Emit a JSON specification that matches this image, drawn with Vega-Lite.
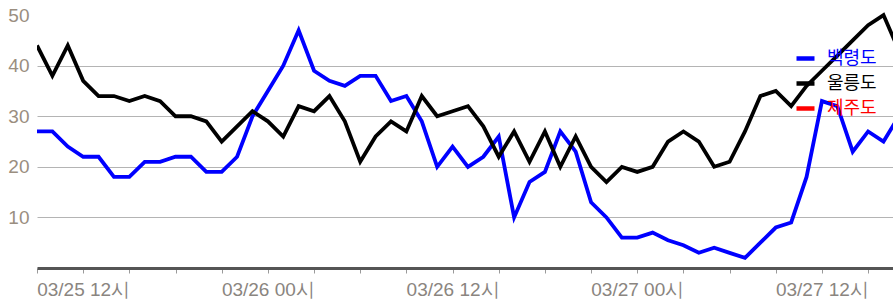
{
  "$schema": "https://vega.github.io/schema/vega-lite/v6.json",
  "width": 856,
  "height": 263,
  "autosize": {"type": "none"},
  "padding": {"left": 37, "top": 5, "right": 0, "bottom": 38},
  "background": "white",
  "config": {"view": {"stroke": null}},
  "data": {"values": [
    {"t": "2024-03-25T09:00Z", "s": "백령도", "v": 27},
    {"t": "2024-03-25T10:00Z", "s": "백령도", "v": 27},
    {"t": "2024-03-25T11:00Z", "s": "백령도", "v": 24},
    {"t": "2024-03-25T12:00Z", "s": "백령도", "v": 22},
    {"t": "2024-03-25T13:00Z", "s": "백령도", "v": 22},
    {"t": "2024-03-25T14:00Z", "s": "백령도", "v": 18},
    {"t": "2024-03-25T15:00Z", "s": "백령도", "v": 18},
    {"t": "2024-03-25T16:00Z", "s": "백령도", "v": 21},
    {"t": "2024-03-25T17:00Z", "s": "백령도", "v": 21},
    {"t": "2024-03-25T18:00Z", "s": "백령도", "v": 22},
    {"t": "2024-03-25T19:00Z", "s": "백령도", "v": 22},
    {"t": "2024-03-25T20:00Z", "s": "백령도", "v": 19},
    {"t": "2024-03-25T21:00Z", "s": "백령도", "v": 19},
    {"t": "2024-03-25T22:00Z", "s": "백령도", "v": 22},
    {"t": "2024-03-25T23:00Z", "s": "백령도", "v": 30},
    {"t": "2024-03-26T00:00Z", "s": "백령도", "v": 35},
    {"t": "2024-03-26T01:00Z", "s": "백령도", "v": 40},
    {"t": "2024-03-26T02:00Z", "s": "백령도", "v": 47},
    {"t": "2024-03-26T03:00Z", "s": "백령도", "v": 39},
    {"t": "2024-03-26T04:00Z", "s": "백령도", "v": 37},
    {"t": "2024-03-26T05:00Z", "s": "백령도", "v": 36},
    {"t": "2024-03-26T06:00Z", "s": "백령도", "v": 38},
    {"t": "2024-03-26T07:00Z", "s": "백령도", "v": 38},
    {"t": "2024-03-26T08:00Z", "s": "백령도", "v": 33},
    {"t": "2024-03-26T09:00Z", "s": "백령도", "v": 34},
    {"t": "2024-03-26T10:00Z", "s": "백령도", "v": 29},
    {"t": "2024-03-26T11:00Z", "s": "백령도", "v": 20},
    {"t": "2024-03-26T12:00Z", "s": "백령도", "v": 24},
    {"t": "2024-03-26T13:00Z", "s": "백령도", "v": 20},
    {"t": "2024-03-26T14:00Z", "s": "백령도", "v": 22},
    {"t": "2024-03-26T15:00Z", "s": "백령도", "v": 26},
    {"t": "2024-03-26T16:00Z", "s": "백령도", "v": 10},
    {"t": "2024-03-26T17:00Z", "s": "백령도", "v": 17},
    {"t": "2024-03-26T18:00Z", "s": "백령도", "v": 19},
    {"t": "2024-03-26T19:00Z", "s": "백령도", "v": 27},
    {"t": "2024-03-26T20:00Z", "s": "백령도", "v": 23},
    {"t": "2024-03-26T21:00Z", "s": "백령도", "v": 13},
    {"t": "2024-03-26T22:00Z", "s": "백령도", "v": 10},
    {"t": "2024-03-26T23:00Z", "s": "백령도", "v": 6},
    {"t": "2024-03-27T00:00Z", "s": "백령도", "v": 6},
    {"t": "2024-03-27T01:00Z", "s": "백령도", "v": 7},
    {"t": "2024-03-27T02:00Z", "s": "백령도", "v": 5.5},
    {"t": "2024-03-27T03:00Z", "s": "백령도", "v": 4.5},
    {"t": "2024-03-27T04:00Z", "s": "백령도", "v": 3},
    {"t": "2024-03-27T05:00Z", "s": "백령도", "v": 4},
    {"t": "2024-03-27T06:00Z", "s": "백령도", "v": 3},
    {"t": "2024-03-27T07:00Z", "s": "백령도", "v": 2},
    {"t": "2024-03-27T08:00Z", "s": "백령도", "v": 5},
    {"t": "2024-03-27T09:00Z", "s": "백령도", "v": 8},
    {"t": "2024-03-27T10:00Z", "s": "백령도", "v": 9},
    {"t": "2024-03-27T11:00Z", "s": "백령도", "v": 18},
    {"t": "2024-03-27T12:00Z", "s": "백령도", "v": 33},
    {"t": "2024-03-27T13:00Z", "s": "백령도", "v": 32},
    {"t": "2024-03-27T14:00Z", "s": "백령도", "v": 23},
    {"t": "2024-03-27T15:00Z", "s": "백령도", "v": 27},
    {"t": "2024-03-27T16:00Z", "s": "백령도", "v": 25},
    {"t": "2024-03-27T17:00Z", "s": "백령도", "v": 30},
    {"t": "2024-03-25T09:00Z", "s": "울릉도", "v": 44},
    {"t": "2024-03-25T10:00Z", "s": "울릉도", "v": 38},
    {"t": "2024-03-25T11:00Z", "s": "울릉도", "v": 44},
    {"t": "2024-03-25T12:00Z", "s": "울릉도", "v": 37},
    {"t": "2024-03-25T13:00Z", "s": "울릉도", "v": 34},
    {"t": "2024-03-25T14:00Z", "s": "울릉도", "v": 34},
    {"t": "2024-03-25T15:00Z", "s": "울릉도", "v": 33},
    {"t": "2024-03-25T16:00Z", "s": "울릉도", "v": 34},
    {"t": "2024-03-25T17:00Z", "s": "울릉도", "v": 33},
    {"t": "2024-03-25T18:00Z", "s": "울릉도", "v": 30},
    {"t": "2024-03-25T19:00Z", "s": "울릉도", "v": 30},
    {"t": "2024-03-25T20:00Z", "s": "울릉도", "v": 29},
    {"t": "2024-03-25T21:00Z", "s": "울릉도", "v": 25},
    {"t": "2024-03-25T22:00Z", "s": "울릉도", "v": 28},
    {"t": "2024-03-25T23:00Z", "s": "울릉도", "v": 31},
    {"t": "2024-03-26T00:00Z", "s": "울릉도", "v": 29},
    {"t": "2024-03-26T01:00Z", "s": "울릉도", "v": 26},
    {"t": "2024-03-26T02:00Z", "s": "울릉도", "v": 32},
    {"t": "2024-03-26T03:00Z", "s": "울릉도", "v": 31},
    {"t": "2024-03-26T04:00Z", "s": "울릉도", "v": 34},
    {"t": "2024-03-26T05:00Z", "s": "울릉도", "v": 29},
    {"t": "2024-03-26T06:00Z", "s": "울릉도", "v": 21},
    {"t": "2024-03-26T07:00Z", "s": "울릉도", "v": 26},
    {"t": "2024-03-26T08:00Z", "s": "울릉도", "v": 29},
    {"t": "2024-03-26T09:00Z", "s": "울릉도", "v": 27},
    {"t": "2024-03-26T10:00Z", "s": "울릉도", "v": 34},
    {"t": "2024-03-26T11:00Z", "s": "울릉도", "v": 30},
    {"t": "2024-03-26T12:00Z", "s": "울릉도", "v": 31},
    {"t": "2024-03-26T13:00Z", "s": "울릉도", "v": 32},
    {"t": "2024-03-26T14:00Z", "s": "울릉도", "v": 28},
    {"t": "2024-03-26T15:00Z", "s": "울릉도", "v": 22},
    {"t": "2024-03-26T16:00Z", "s": "울릉도", "v": 27},
    {"t": "2024-03-26T17:00Z", "s": "울릉도", "v": 21},
    {"t": "2024-03-26T18:00Z", "s": "울릉도", "v": 27},
    {"t": "2024-03-26T19:00Z", "s": "울릉도", "v": 20},
    {"t": "2024-03-26T20:00Z", "s": "울릉도", "v": 26},
    {"t": "2024-03-26T21:00Z", "s": "울릉도", "v": 20},
    {"t": "2024-03-26T22:00Z", "s": "울릉도", "v": 17},
    {"t": "2024-03-26T23:00Z", "s": "울릉도", "v": 20},
    {"t": "2024-03-27T00:00Z", "s": "울릉도", "v": 19},
    {"t": "2024-03-27T01:00Z", "s": "울릉도", "v": 20},
    {"t": "2024-03-27T02:00Z", "s": "울릉도", "v": 25},
    {"t": "2024-03-27T03:00Z", "s": "울릉도", "v": 27},
    {"t": "2024-03-27T04:00Z", "s": "울릉도", "v": 25},
    {"t": "2024-03-27T05:00Z", "s": "울릉도", "v": 20},
    {"t": "2024-03-27T06:00Z", "s": "울릉도", "v": 21},
    {"t": "2024-03-27T07:00Z", "s": "울릉도", "v": 27},
    {"t": "2024-03-27T08:00Z", "s": "울릉도", "v": 34},
    {"t": "2024-03-27T09:00Z", "s": "울릉도", "v": 35},
    {"t": "2024-03-27T10:00Z", "s": "울릉도", "v": 32},
    {"t": "2024-03-27T11:00Z", "s": "울릉도", "v": 36},
    {"t": "2024-03-27T12:00Z", "s": "울릉도", "v": 39},
    {"t": "2024-03-27T13:00Z", "s": "울릉도", "v": 42},
    {"t": "2024-03-27T14:00Z", "s": "울릉도", "v": 45},
    {"t": "2024-03-27T15:00Z", "s": "울릉도", "v": 48},
    {"t": "2024-03-27T16:00Z", "s": "울릉도", "v": 50},
    {"t": "2024-03-27T17:00Z", "s": "울릉도", "v": 43}
  ]},
  "mark": {"type": "line", "strokeWidth": 3.8, "clip": true},
  "encoding": {
    "x": {
      "field": "t",
      "type": "temporal",
      "scale": {
        "type": "utc",
        "domain": [1711357200000, 1711557420000]
      },
      "axis": {
        "title": null,
        "grid": false,
        "tickCount": 18,
        "labelExpr": "utchours(datum.value) % 12 == 0 ? utcFormat(datum.value, '%m/%d %H') + '시' : ''",
        "labelOverlap": false,
        "labelFlush": false,
        "labelBound": false,
        "domainColor": "#555555",
        "domainWidth": 3,
        "tickColor": "#9a9a9a",
        "tickSize": 5,
        "tickWidth": 1,
        "labelFont": "Liberation Sans",
        "labelFontSize": 19,
        "labelColor": "#8a8580",
        "labelPadding": 7
      }
    },
    "y": {
      "field": "v",
      "type": "quantitative",
      "scale": {"domain": [0, 52], "nice": false},
      "axis": {
        "title": null,
        "values": [10, 20, 30, 40, 50],
        "domain": false,
        "ticks": false,
        "labelPadding": 8,
        "labelFont": "Liberation Sans",
        "labelFontSize": 19,
        "labelColor": "#9a8e80",
        "gridColor": "#b4b4b4",
        "gridWidth": 1,
        "gridOpacity": {"condition": {"test": "datum.value == 50", "value": 0}, "value": 1}
      }
    },
    "color": {
      "field": "s",
      "type": "nominal",
      "scale": {"domain": ["백령도", "울릉도", "제주도"], "range": ["#0000ff", "#000000", "#ff0000"]},
      "legend": {
        "title": null,
        "orient": "none",
        "legendX": 757,
        "legendY": 42,
        "padding": 0,
        "symbolType": "stroke",
        "symbolStrokeWidth": 4.5,
        "symbolSize": 324,
        "labelFont": "Noto Sans CJK KR",
        "labelFontSize": 18,
        "labelLimit": 300,
        "labelOffset": 10,
        "rowPadding": 4,
        "encode": {"labels": {"update": {"fill": {"scale": "color", "field": "value"}}}}
      }
    }
  }
}
